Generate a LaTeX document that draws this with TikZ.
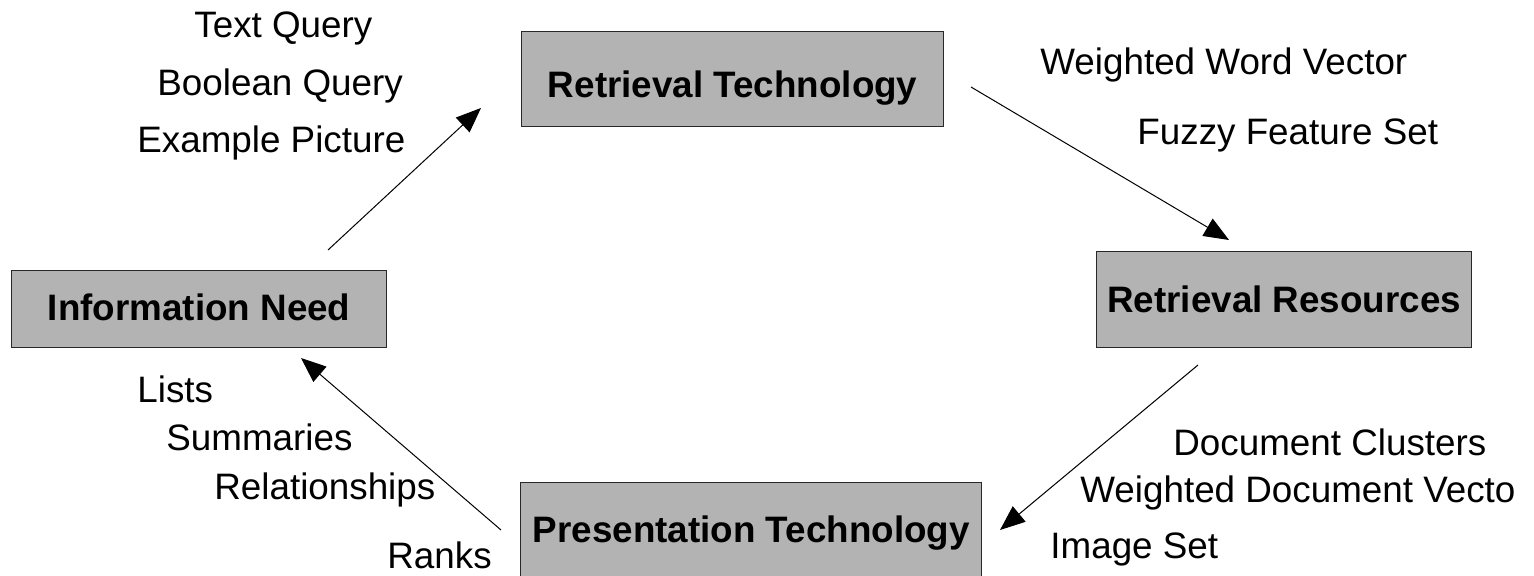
\documentclass[tikz,border=0pt]{standalone}
\usepackage{fontspec}
\setmainfont{Liberation Sans}
\usetikzlibrary{arrows.meta}
\definecolor{boxgray}{RGB}{179,179,179}
\definecolor{boxline}{RGB}{40,40,40}
\tikzset{
  stagebox/.style={draw=boxline, line width=0.7pt, fill=boxgray, rectangle,
    inner xsep=0pt, inner ysep=0pt, font=\fontsize{18.4pt}{22pt}\selectfont\bfseries},
  itemlabel/.style={anchor=base west, inner sep=0pt, font=\fontsize{18.4pt}{22pt}\selectfont},
  flow/.style={line width=0.5pt, -{Triangle[length=12.5pt,width=10pt]}}
}
\begin{document}
\begin{tikzpicture}[x=0.5pt,y=-0.5pt]
\useasboundingbox (0,0) rectangle (1534,576);
% boxes (text height = top-to-baseline, text depth = baseline-to-bottom)
\node[stagebox, minimum width=211pt, text height=32.75pt, text depth=14.75pt, anchor=north west]
  (tech) at (521,31) {Retrieval Technology};
\node[stagebox, minimum width=187.5pt, text height=25pt, text depth=13.5pt, anchor=north west]
  (need) at (11,270) {Information Need};
\node[stagebox, minimum width=187.5pt, text height=30.5pt, text depth=17.5pt, anchor=north west]
  (res) at (1096,251) {Retrieval Resources};
\node[stagebox, minimum width=230.5pt, text height=30pt, text depth=20pt, anchor=north west]
  (pres) at (520,482) {Presentation Technology};
% labels
\node[itemlabel] (q1) at (194,38) {Text Query};
\node[itemlabel] (q2) at (157,96) {Boolean Query};
\node[itemlabel] (q3) at (137,153) {Example Picture};
\node[itemlabel] (w1) at (1040,75) {Weighted Word Vector};
\node[itemlabel] (w2) at (1137,145) {Fuzzy Feature Set};
\node[itemlabel] (d1) at (1173,455) {Document Clusters};
\node[itemlabel] (d2) at (1080,502) {Weighted Document Vecto};
\node[itemlabel] (d3) at (1050,558) {Image Set};
\node[itemlabel] (l1) at (137,403) {Lists};
\node[itemlabel] (l2) at (166,451) {Summaries};
\node[itemlabel] (l3) at (214,499) {Relationships};
\node[itemlabel] (l4) at (387,568) {Ranks};
% arrow end points
\coordinate (a1s) at (328,250);
\coordinate (a1e) at (481,108);
\coordinate (a2s) at (971,87);
\coordinate (a2e) at (1229,240);
\coordinate (a3s) at (1198,365);
\coordinate (a3e) at (1000,530);
\coordinate (a4s) at (501,530);
\coordinate (a4e) at (301,358);
\draw[flow] (a1s) -- (a1e);
\draw[flow] (a2s) -- (a2e);
\draw[flow] (a3s) -- (a3e);
\draw[flow] (a4s) -- (a4e);
\end{tikzpicture}
\end{document}
